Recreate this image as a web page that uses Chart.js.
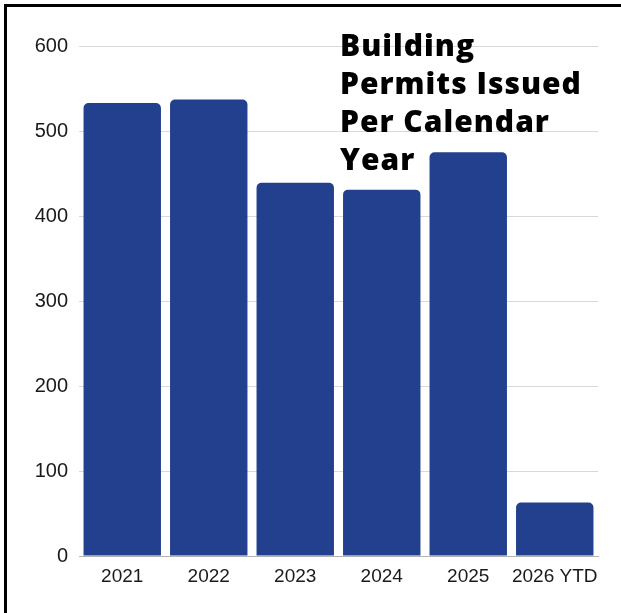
<!DOCTYPE html>
<html>
<head>
<meta charset="utf-8">
<script src="https://cdn.jsdelivr.net/npm/chart.js@4"></script>
<style>
  html, body { margin: 0; padding: 0; background: #fff; overflow: hidden; }
  .frame {
    position: absolute; left: 4px; top: 4px; width: 700px; height: 700px;
    border: 3px solid #000; box-sizing: border-box;
  }
  .wrap { position: absolute; left: 0; top: 0; width: 621px; height: 613px; }
  .title {
    position: absolute; left: 340px; top: 26px;
    font-family: "Open Sans", sans-serif; font-weight: 800; font-size: 30px;
    line-height: 38px; color: #000; letter-spacing: 1px;
  }
</style>
</head>
<body>
<div class="frame"></div>
<div class="wrap">
  <canvas id="permitsChart" width="621" height="613"></canvas>
  <div class="title">Building<br>Permits Issued<br>Per Calendar<br>Year</div>
</div>
<script>
const years = ['2021', '2022', '2023', '2024', '2025', '2026 YTD']
const permits = [533, 537, 439, 431, 475, 63]
const yTicks = [0, 100, 200, 300, 400, 500, 600]

const ctx = document.getElementById('permitsChart').getContext('2d')

new Chart(ctx, {
  type: 'bar',
  data: {
    labels: years,
    datasets: [{
      data: permits,
      backgroundColor: '#23408e',
      borderRadius: 5,
      barPercentage: 0.895,
      categoryPercentage: 1
    }]
  },
  options: {
    responsive: false,
    animation: false,
    layout: { padding: { top: 46, right: 23, left: 0, bottom: 0 } },
    plugins: {
      legend: { display: false },
      tooltip: { enabled: false }
    },
    scales: {
      x: {
        grid: { display: false, drawTicks: false },
        border: { color: '#b3b3b3', width: 1 },
        ticks: {
          color: '#1a1a1a',
          padding: 9,
          maxRotation: 0,
          minRotation: 0,
          autoSkip: false,
          font: { family: 'Liberation Sans', size: 19 }
        },
        afterFit: scale => { scale.height = 57 }
      },
      y: {
        min: 0,
        max: 600,
        afterBuildTicks: scale => { scale.ticks = yTicks.map(v => ({ value: v })) },
        grid: {
          drawTicks: false,
          color: c => c.tick && c.tick.value === 0 ? 'rgba(0,0,0,0)' : '#d9d9d9'
        },
        border: { display: false },
        ticks: {
          color: '#1a1a1a',
          padding: 11,
          font: { family: 'Liberation Sans', size: 20 }
        },
        afterFit: scale => { scale.width = 79 }
      }
    }
  }
})
</script>
</body>
</html>
